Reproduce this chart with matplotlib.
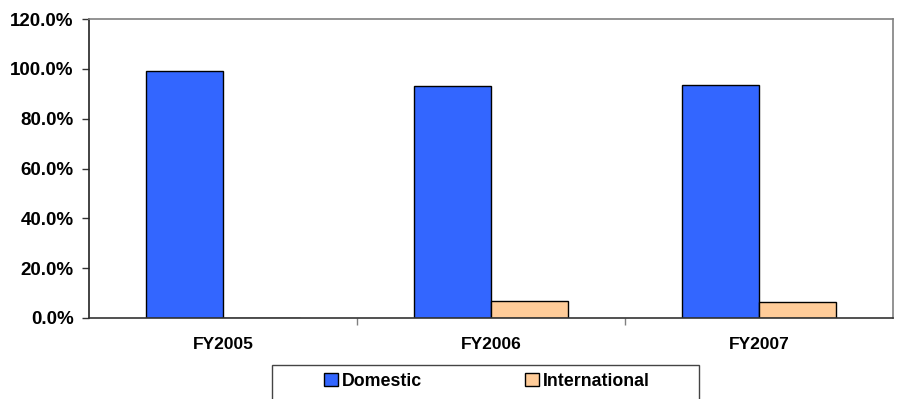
import numpy as np
import matplotlib.pyplot as plt
from matplotlib.patches import Rectangle
from matplotlib.ticker import FuncFormatter

plt.rcParams['font.family'] = ['Liberation Sans', 'DejaVu Sans']
plt.rcParams['font.weight'] = 'bold'

years = ['FY2005', 'FY2006', 'FY2007']
domestic = [99.3, 93.1, 93.7]
international = [0.0, 6.9, 6.3]

fig = plt.figure(figsize=(8.97, 3.99), dpi=100)
ax = fig.add_axes([89/897, 1 - 318/399, (893 - 89)/897, (318 - 19)/399])

x = np.arange(len(years))
w = 0.287
b1 = ax.bar(x - w/2, domestic, w, color='#3366FF', edgecolor='black', linewidth=1, label='Domestic')
b2 = ax.bar(x + w/2, international, w, color='#FFCC99', edgecolor='black', linewidth=1, label='International')

ax.set_xlim(-0.5, 2.5)
ax.set_ylim(0, 120)
ax.set_yticks(np.arange(0, 121, 20))
ax.yaxis.set_major_formatter(FuncFormatter(lambda v, p: f'{v:.1f}%'))
ax.tick_params(axis='y', direction='out', length=5, width=1, pad=6, labelsize=13.5, color='#333333')

ax.set_xticks(x)
ax.set_xticklabels(years)
ax.set_xticks([0.5, 1.5], minor=True)
ax.tick_params(axis='x', which='major', length=0, pad=14, labelsize=12.5)
ax.tick_params(axis='x', which='minor', direction='out', length=5, width=1, color='#808080')

for s in ['top', 'right']:
    ax.spines[s].set_color('#808080')
ax.spines['left'].set_color('#222222')
ax.spines['bottom'].set_color('#333333')
for s in ax.spines.values():
    s.set_linewidth(1.2)

fig.patches.append(Rectangle((272/897, 1 - 401/399), (699 - 272)/897, 36/399,
                             transform=fig.transFigure, fill=False, edgecolor='#444444', linewidth=1))
fig.legend(handles=[b1, b2], loc='center', bbox_to_anchor=(487/897, 1 - 381/399), ncol=2,
           frameon=False, fontsize=12.8, columnspacing=5.8, handletextpad=0.25,
           handlelength=0.75, handleheight=0.75)

fig.savefig('out.png', dpi=100)
